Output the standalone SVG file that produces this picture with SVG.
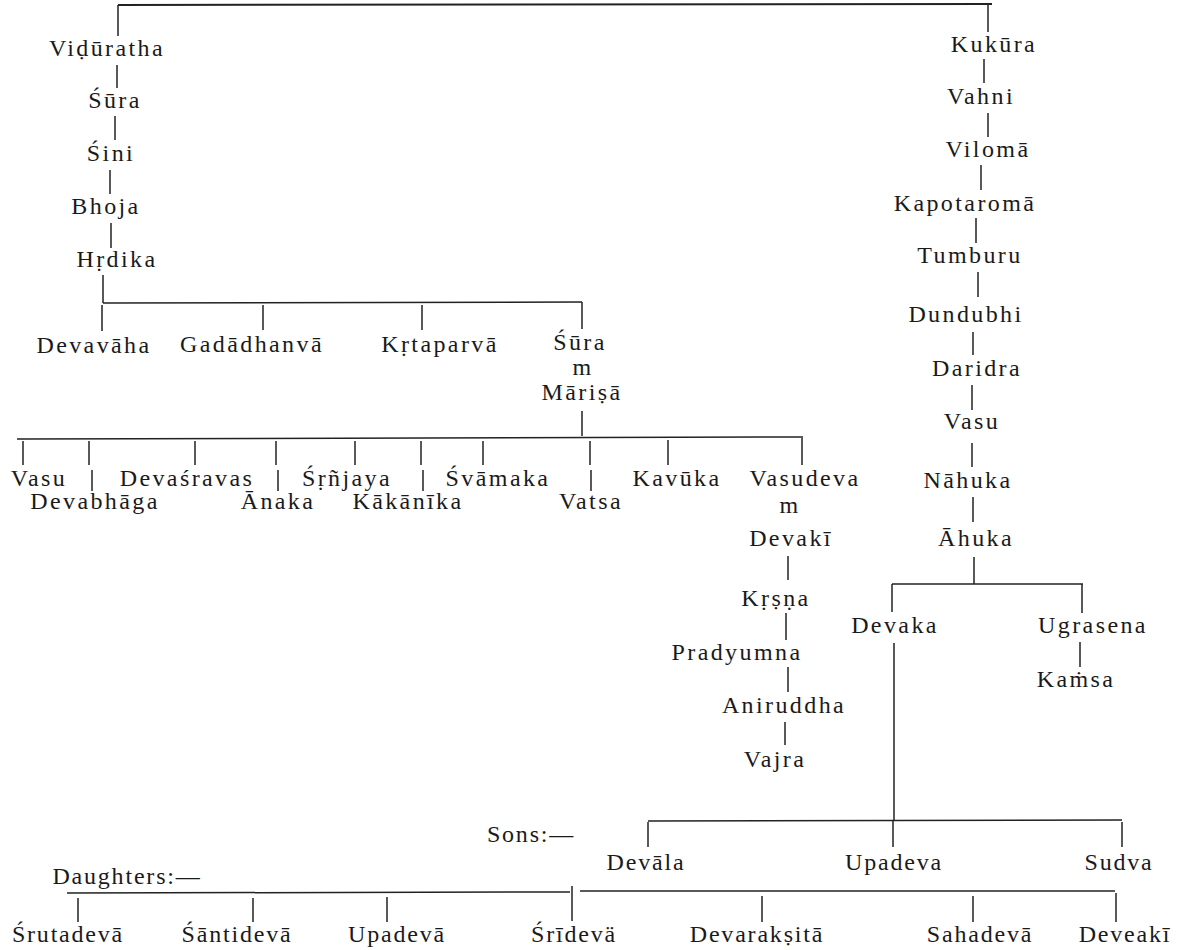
<svg xmlns="http://www.w3.org/2000/svg" width="1195" height="950" viewBox="0 0 1195 950">
<style>
text{font-family:"Liberation Serif","Times New Roman",serif;font-size:24px;letter-spacing:2.4px;fill:#1a1a1a;text-anchor:middle}
.lbl{letter-spacing:1.8px}
#connectors line{stroke:#222;stroke-width:1.5;fill:none}
</style>
<rect width="1195" height="950" fill="#fff"/>
<g id="connectors">
<line x1="118" y1="5" x2="992" y2="4" style="stroke-width:2"/>
<line x1="118" y1="5" x2="118" y2="36"/>
<line x1="117" y1="65" x2="117" y2="88"/>
<line x1="115" y1="116" x2="115" y2="140"/>
<line x1="110" y1="170" x2="110" y2="194"/>
<line x1="111" y1="223" x2="111" y2="248"/>
<line x1="103" y1="275" x2="103" y2="303"/>
<line x1="103" y1="303" x2="582" y2="302"/>
<line x1="102" y1="305" x2="102" y2="331"/>
<line x1="263" y1="305" x2="263" y2="330"/>
<line x1="422" y1="305" x2="422" y2="330"/>
<line x1="582" y1="302" x2="582" y2="329"/>
<line x1="582" y1="411" x2="582" y2="436"/>
<line x1="17" y1="439" x2="803" y2="437"/>
<line x1="23" y1="441" x2="23" y2="465"/>
<line x1="89" y1="441" x2="89" y2="465"/>
<line x1="92" y1="470" x2="92" y2="491"/>
<line x1="195" y1="441" x2="195" y2="465"/>
<line x1="276" y1="441" x2="276" y2="465"/>
<line x1="278" y1="470" x2="278" y2="491"/>
<line x1="355" y1="441" x2="355" y2="465"/>
<line x1="421" y1="441" x2="421" y2="465"/>
<line x1="423" y1="470" x2="423" y2="491"/>
<line x1="483" y1="441" x2="483" y2="465"/>
<line x1="590" y1="441" x2="590" y2="465"/>
<line x1="591" y1="470" x2="591" y2="491"/>
<line x1="668" y1="440" x2="668" y2="465"/>
<line x1="802" y1="438" x2="802" y2="465"/>
<line x1="788" y1="556" x2="788" y2="580"/>
<line x1="786" y1="613" x2="786" y2="640"/>
<line x1="788" y1="667" x2="788" y2="692"/>
<line x1="785" y1="722" x2="785" y2="745"/>
<line x1="988" y1="4" x2="988" y2="32"/>
<line x1="984" y1="59" x2="984" y2="83"/>
<line x1="988" y1="113" x2="988" y2="137"/>
<line x1="981" y1="165" x2="981" y2="190"/>
<line x1="976" y1="218" x2="976" y2="243"/>
<line x1="978" y1="272" x2="978" y2="297"/>
<line x1="973" y1="332" x2="973" y2="355"/>
<line x1="972" y1="385" x2="972" y2="410"/>
<line x1="972" y1="443" x2="972" y2="467"/>
<line x1="973" y1="497" x2="973" y2="522"/>
<line x1="974" y1="557" x2="974" y2="584"/>
<line x1="892" y1="584" x2="1083" y2="584"/>
<line x1="892" y1="584" x2="892" y2="612"/>
<line x1="1082" y1="584" x2="1082" y2="613"/>
<line x1="1080" y1="642" x2="1080" y2="667"/>
<line x1="894" y1="643" x2="894" y2="820"/>
<line x1="648" y1="821" x2="1122" y2="820"/>
<line x1="648" y1="822" x2="648" y2="847"/>
<line x1="893" y1="820" x2="893" y2="847"/>
<line x1="1122" y1="822" x2="1122" y2="847"/>
<line x1="67" y1="893" x2="570" y2="892"/>
<line x1="580" y1="891" x2="1115" y2="891"/>
<line x1="78" y1="898" x2="78" y2="922"/>
<line x1="253" y1="898" x2="253" y2="922"/>
<line x1="387" y1="897" x2="387" y2="922"/>
<line x1="572" y1="886" x2="572" y2="921"/>
<line x1="762" y1="896" x2="762" y2="922"/>
<line x1="973" y1="896" x2="973" y2="922"/>
<line x1="1116" y1="893" x2="1116" y2="922"/>
</g>
<g id="n-viduratha"><text x="107" y="56">Viḍūratha</text></g>
<g id="n-sura1"><text x="115" y="108">Śūra</text></g>
<g id="n-sini"><text x="111" y="161">Śini</text></g>
<g id="n-bhoja"><text x="106" y="214">Bhoja</text></g>
<g id="n-hrdika"><text x="117" y="267">Hṛdika</text></g>
<g id="n-devavaha"><text x="94" y="353">Devavāha</text></g>
<g id="n-gadadhanva"><text x="252" y="352">Gadādhanvā</text></g>
<g id="n-krtaparva"><text x="440" y="352">Kṛtaparvā</text></g>
<g id="n-sura2"><text x="580" y="350">Śūra</text><text x="583" y="375">m</text><text x="582" y="400">Māriṣā</text></g>
<g id="n-vasu1"><text x="39" y="486">Vasu</text></g>
<g id="n-devabhaga"><text x="95" y="509">Devabhāga</text></g>
<g id="n-devasravas"><text x="187" y="486">Devaśravas</text></g>
<g id="n-anaka"><text x="278" y="509">Ānaka</text></g>
<g id="n-srnjaya"><text x="347" y="486">Śṛñjaya</text></g>
<g id="n-kakanika"><text x="408" y="509">Kākānīka</text></g>
<g id="n-svamaka"><text x="498" y="486">Śvāmaka</text></g>
<g id="n-vatsa"><text x="591" y="509">Vatsa</text></g>
<g id="n-kavuka"><text x="677" y="486">Kavūka</text></g>
<g id="n-vasudeva"><text x="805" y="486">Vasudeva</text><text x="790" y="513">m</text><text x="791" y="546">Devakī</text></g>
<g id="n-krsna"><text x="776" y="606">Kṛṣṇa</text></g>
<g id="n-pradyumna"><text x="737" y="660">Pradyumna</text></g>
<g id="n-aniruddha"><text x="784" y="713">Aniruddha</text></g>
<g id="n-vajra"><text x="775" y="767">Vajra</text></g>
<g id="n-kukura"><text x="994" y="52">Kukūra</text></g>
<g id="n-vahni"><text x="981" y="104">Vahni</text></g>
<g id="n-viloma"><text x="988" y="157">Vilomā</text></g>
<g id="n-kapotaroma"><text x="965" y="211">Kapotaromā</text></g>
<g id="n-tumburu"><text x="970" y="263">Tumburu</text></g>
<g id="n-dundubhi"><text x="966" y="322">Dundubhi</text></g>
<g id="n-daridra"><text x="977" y="376">Daridra</text></g>
<g id="n-vasu2"><text x="972" y="429">Vasu</text></g>
<g id="n-nahuka"><text x="968" y="488">Nāhuka</text></g>
<g id="n-ahuka"><text x="976" y="546">Āhuka</text></g>
<g id="n-devaka"><text x="895" y="633">Devaka</text></g>
<g id="n-ugrasena"><text x="1093" y="633">Ugrasena</text></g>
<g id="n-kamsa"><text x="1076" y="687">Kaṁsa</text></g>
<g id="n-sons"><text x="531" y="842" class="lbl">Sons:—</text></g>
<g id="n-devala"><text x="646" y="870" class="lbl">Devāla</text></g>
<g id="n-upadeva"><text x="894" y="870" class="lbl">Upadeva</text></g>
<g id="n-sudva"><text x="1119" y="870" class="lbl">Sudva</text></g>
<g id="n-daughters"><text x="127" y="884" class="lbl">Daughters:—</text></g>
<g id="n-srutadeva"><text x="68" y="942" class="lbl">Śrutadevā</text></g>
<g id="n-santideva"><text x="237" y="942" class="lbl">Śāntidevā</text></g>
<g id="n-upadeva2"><text x="397" y="942" class="lbl">Upadevā</text></g>
<g id="n-srideva"><text x="574" y="942" class="lbl">Śrīdevä</text></g>
<g id="n-devaraksita"><text x="757" y="942" class="lbl">Devarakṣitā</text></g>
<g id="n-sahadeva"><text x="980" y="942" class="lbl">Sahadevā</text></g>
<g id="n-deveaki"><text x="1125" y="942" class="lbl">Deveakī</text></g>
</svg>
